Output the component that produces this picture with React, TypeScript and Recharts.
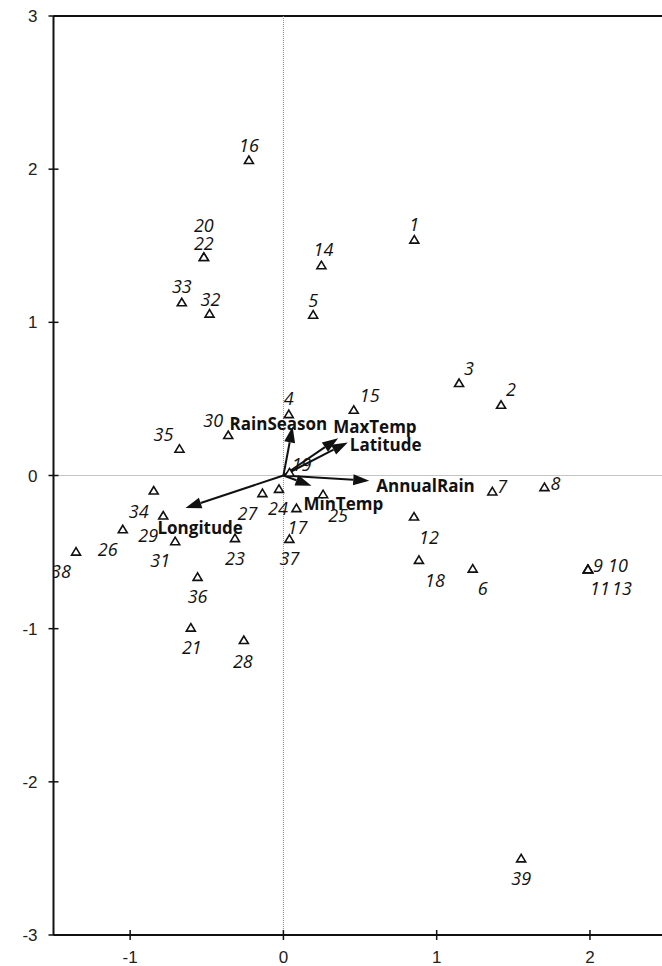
import React from "react";
import {
  ScatterChart,
  Scatter,
  XAxis,
  YAxis,
  ReferenceLine,
} from "recharts";

// Site scores (axis 1 / axis 2)
const siteIds = [
  "1", "2", "3", "4", "5", "6", "7", "8", "9", "10",
  "11", "12", "13", "14", "15", "16", "17", "18", "19", "20",
  "21", "22", "23", "24", "25", "26", "27", "28", "29", "30",
  "31", "32", "33", "34", "35", "36", "37", "38", "39",
];
const siteX = [
  0.854, 1.42, 1.146, 0.035, 0.194, 1.235, 1.363, 1.703, 1.987, 1.987,
  1.987, 0.852, 1.987, 0.248, 0.459, -0.225, 0.085, 0.884, 0.04, -0.519,
  -0.604, -0.519, -0.316, -0.029, 0.259, -1.048, -0.137, -0.258, -0.784, -0.36,
  -0.706, -0.482, -0.663, -0.846, -0.678, -0.56, 0.039, -1.353, 1.551,
];
const siteY = [
  1.54, 0.462, 0.604, 0.401, 1.05, -0.608, -0.104, -0.076, -0.612, -0.612,
  -0.612, -0.268, -0.612, 1.373, 0.429, 2.06, -0.213, -0.551, 0.02, 1.427,
  -0.993, 1.427, -0.409, -0.087, -0.122, -0.351, -0.115, -1.074, -0.261, 0.264,
  -0.429, 1.057, 1.131, -0.098, 0.175, -0.662, -0.414, -0.497, -2.5,
];

// Environmental vectors
const vectorNames = ["RainSeason", "MaxTemp", "Latitude", "AnnualRain", "MinTemp", "Longitude"];
const vectorX = [0.06, 0.357, 0.42, 0.56, 0.183, -0.639];
const vectorY = [0.32, 0.244, 0.216, -0.035, -0.067, -0.213];

const xTicks = [-1, 0, 1, 2];
const yTicks = [-3, -2, -1, 0, 1, 2, 3];

// label placement (px offset of the text centre from the marker)
const labelOffset: Record<string, [number, number]> = {
  "1": [0, -16], "2": [10, -16], "3": [10, -15], "4": [0, -16], "5": [0, -15],
  "6": [10, 19], "7": [10, -5], "8": [11, -4], "9": [10, -4], "10": [30, -4],
  "11": [12, 19], "12": [15, 20], "13": [34, 19], "14": [2, -16], "15": [16, -15],
  "16": [0, -15], "17": [1, 19], "18": [16, 20], "19": [12, -8], "20": [0, -32],
  "21": [1, 19], "22": [0, -14], "23": [0, 20], "24": [-1, 19], "25": [15, 21],
  "26": [-15, 20], "27": [-15, 20], "28": [-1, 21], "29": [-15, 20], "30": [-15, -15],
  "31": [-15, 19], "32": [1, -15], "33": [0, -16], "34": [-15, 20], "35": [-16, -15],
  "36": [0, 19], "37": [0, 19], "38": [-15, 19], "39": [0, 20],
};

// vector label placement: dx from tip (text start), dy (text centre)
const vectorLabelOffset: Record<string, [number, number]> = {
  RainSeason: [-63, -3],
  MaxTemp: [-5, -12],
  Latitude: [2, 2],
  AnnualRain: [7, 5],
  MinTemp: [-8, 18],
  Longitude: [-28, 19],
};

const sites = siteIds.map((id, i) => ({ id, x: siteX[i], y: siteY[i] }));

const labelFont = "'Open Sans', 'Noto Sans', sans-serif";
const tickFont = "'Liberation Sans', Arial, sans-serif";
const TICK_SIZE = 5;
const TICK_MARGIN = 11;

// ticks that cross the axis line, like the original
const XTick = (props: any) => {
  const { x, y, payload } = props;
  const axisY = y - TICK_SIZE - TICK_MARGIN;
  return (
    <g>
      <line x1={x} x2={x} y1={axisY - 5} y2={axisY + 5} stroke="#111" strokeWidth={1.5} />
      <text x={x} y={y} dy="0.71em" textAnchor="middle" fontFamily={tickFont} fontSize={17} fill="#222">
        {payload.value}
      </text>
    </g>
  );
};

const YTick = (props: any) => {
  const { x, y, payload } = props;
  const axisX = x + TICK_SIZE + TICK_MARGIN;
  return (
    <g>
      <line x1={axisX - 5} x2={axisX + 5} y1={y} y2={y} stroke="#111" strokeWidth={1.5} />
      <text x={x} y={y} dy="0.355em" textAnchor="end" fontFamily={tickFont} fontSize={17} fill="#222">
        {payload.value}
      </text>
    </g>
  );
};

const SiteMarker = (props: any) => {
  const { cx, cy, payload } = props;
  if (cx == null || cy == null) return <g />;
  const [dx, dy] = labelOffset[payload.id] || [0, -15];
  return (
    <g>
      <polygon
        points={`${cx},${cy - 4} ${cx - 4.5},${cy + 3.5} ${cx + 4.5},${cy + 3.5}`}
        fill="#fff"
        stroke="#111"
        strokeWidth={1.6}
      />
      <text
        x={cx + dx}
        y={cy + dy}
        textAnchor="middle"
        dominantBaseline="central"
        fontFamily={labelFont}
        fontStyle="italic"
        fontSize={18}
        fill="#111"
      >
        {payload.id}
      </text>
    </g>
  );
};

const makeArrow = (name: string) => (props: any) => {
  const { x1, y1, x2, y2 } = props;
  if ([x1, y1, x2, y2].some((v) => v == null || isNaN(v))) return <g />;
  const ang = Math.atan2(y2 - y1, x2 - x1);
  const len = 16;
  const half = 5.5;
  const bx = x2 - len * Math.cos(ang);
  const by = y2 - len * Math.sin(ang);
  const px = -Math.sin(ang) * half;
  const py = Math.cos(ang) * half;
  const [dx, dy] = vectorLabelOffset[name];
  return (
    <g>
      <line x1={x1} y1={y1} x2={bx} y2={by} stroke="#111" strokeWidth={2} />
      <polygon points={`${x2},${y2} ${bx + px},${by + py} ${bx - px},${by - py}`} fill="#111" />
      <text
        x={x2 + dx}
        y={y2 + dy}
        dominantBaseline="central"
        fontFamily={labelFont}
        fontWeight="bold"
        fontSize={17}
        fill="#111"
      >
        {name}
      </text>
    </g>
  );
};

export default function App() {
  return (
    <div style={{ position: "absolute", left: 0, top: 0, background: "#fff" }}>
      <ScatterChart
        width={662}
        height={966}
        margin={{ top: 16, right: 0, bottom: 1, left: 0 }}
      >
        <XAxis
          type="number"
          dataKey="x"
          domain={[-1.5, 2.47]}
          ticks={xTicks}
          allowDataOverflow
          height={30}
          tick={<XTick />}
          tickSize={TICK_SIZE}
          tickMargin={TICK_MARGIN}
          tickLine={false}
          axisLine={{ stroke: "#111", strokeWidth: 2 }}
        />
        <YAxis
          type="number"
          dataKey="y"
          domain={[-3, 3]}
          ticks={yTicks}
          allowDataOverflow
          width={53.5}
          tick={<YTick />}
          tickSize={TICK_SIZE}
          tickMargin={TICK_MARGIN}
          tickLine={false}
          axisLine={{ stroke: "#111", strokeWidth: 2 }}
        />
        <ReferenceLine y={3} stroke="#111" strokeWidth={2} />
        <ReferenceLine x={0} stroke="#888" strokeDasharray="1 1" strokeWidth={1} />
        <ReferenceLine y={0} stroke="#888" strokeDasharray="1 1" strokeWidth={1} />
        <Scatter
          data={sites}
          shape={SiteMarker}
          isAnimationActive={false}
        />
        {vectorNames.map((name, i) => (
          <ReferenceLine
            key={name}
            segment={[{ x: 0, y: 0 }, { x: vectorX[i], y: vectorY[i] }]}
            shape={makeArrow(name)}
            ifOverflow="visible"
          />
        ))}
      </ScatterChart>
    </div>
  );
}
